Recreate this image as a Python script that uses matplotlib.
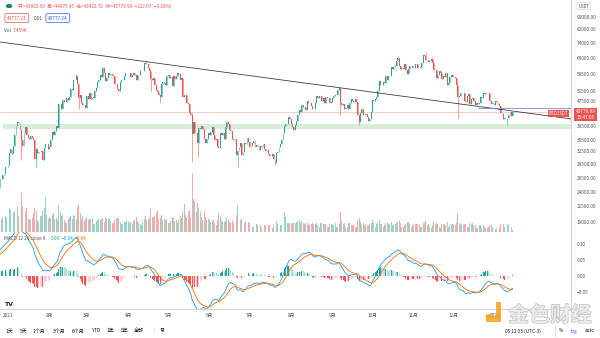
import numpy as np
import pandas as pd
import matplotlib
matplotlib.use('Agg')
import matplotlib.pyplot as plt
from matplotlib.patches import FancyBboxPatch, Rectangle, Circle
from matplotlib.ticker import NullLocator
import matplotlib.patheffects as pe

plt.rcParams['font.family'] = ['Noto Sans CJK SC', 'DejaVu Sans']

# ---- data: BTCUSDT daily closes, thousand USDT -------------------------
# 2020-11-15 .. 2020-12-25, only used to warm up the MACD
warmup = [15.9, 16.7, 17.7, 17.8, 17.8, 18.7, 18.7, 18.4, 18.4, 19.2, 18.7, 17.1, 17.2,
          17.7, 18.2, 19.7, 18.8, 19.2, 19.4, 18.7, 19.2, 19.4, 19.2, 18.3, 18.6, 18.3,
          18.0, 18.8, 19.2, 19.3, 19.4, 21.3, 22.8, 23.1, 23.9, 23.5, 22.7, 23.8, 23.2,
          23.7, 24.7]

close_dec20 = [26.4, 26.3, 27.1, 27.4, 28.9, 29.0]
close_jan = [29.4, 32.2, 33.0, 32.0, 34.0, 36.8, 39.4, 40.7, 40.3, 38.2,
             35.5, 34.0, 37.4, 39.2, 36.8, 36.1, 35.8, 36.6, 36.0, 35.5,
             30.8, 33.0, 32.1, 32.3, 32.3, 32.5, 30.4, 33.4, 34.3, 34.3, 33.1]
close_feb = [33.5, 35.5, 37.7, 36.9, 38.0, 39.3, 38.9, 46.4, 46.5, 44.9,
             48.0, 47.4, 47.2, 48.6, 47.9, 49.1, 52.1, 51.6, 55.9, 56.0,
             57.5, 54.2, 48.8, 49.7, 47.1, 46.3, 46.2, 45.2]
close_mar = [49.6, 48.4, 50.5, 48.4, 48.9, 48.9, 51.2, 52.4, 54.9, 56.0,
             57.8, 57.3, 61.2, 59.0, 55.6, 56.8, 58.9, 58.0, 58.4, 58.1,
             57.4, 54.1, 54.3, 52.3, 51.3, 55.0, 55.8, 55.8, 57.6, 58.8, 58.9]
close_apr = [59.0, 59.1, 57.1, 58.2, 59.1, 58.0, 56.0, 58.1, 58.1, 59.8,
             59.8, 59.9, 63.5, 62.9, 63.2, 61.3, 60.0, 56.2, 55.7, 56.5,
             53.8, 51.7, 51.1, 50.0, 49.0, 54.0, 55.0, 54.8, 53.6, 57.7]
close_may = [57.8, 56.6, 57.2, 53.2, 57.5, 56.4, 57.4, 58.9, 58.3, 55.8,
             56.7, 49.2, 49.7, 49.9, 46.8, 46.4, 43.6, 42.9, 37.0, 40.7,
             37.3, 37.5, 34.7, 38.8, 38.4, 39.3, 38.5, 35.7, 34.6, 35.7, 37.3]
close_jun = [36.7, 37.6, 39.2, 36.9, 35.5, 35.8, 33.6, 33.4, 37.4, 36.7,
             37.3, 35.6, 39.1, 40.5, 40.1, 38.3, 38.1, 35.8, 35.5, 35.6,
             31.7, 32.5, 33.7, 34.7, 31.6, 32.3, 34.7, 34.5, 35.9, 35.0]
close_jul = [33.6, 33.8, 34.7, 35.3, 33.7, 34.2, 33.9, 32.9, 33.8, 33.5,
             34.3, 33.1, 32.7, 32.8, 31.8, 31.4, 31.5, 31.8, 30.8, 29.8,
             32.1, 32.3, 33.6, 34.3, 35.4, 37.3, 39.5, 40.0, 40.0, 42.2, 41.6]
close_aug = [39.9, 39.2, 38.2, 39.7, 40.9, 42.9, 44.6, 43.8, 46.3, 45.6,
             45.6, 44.4, 47.8, 47.1, 47.0, 46.0, 44.7, 44.7, 46.8, 49.3,
             48.9, 49.3, 49.5, 47.7, 48.9, 46.9, 49.1, 48.9, 48.8, 47.1, 47.2]
close_sep = [48.8, 49.3, 50.0, 49.9, 51.8, 52.7, 46.9, 46.1, 46.4, 44.9,
             45.2, 46.1, 44.9, 47.1, 48.2, 47.8, 47.3, 48.3, 47.3, 43.0,
             40.7, 43.6, 44.9, 42.8, 42.7, 43.2, 42.2, 41.0, 41.5, 43.8]
close_oct = [48.1, 47.7, 48.2, 49.2, 51.5, 55.3, 53.8, 53.9, 55.0, 54.7,
             57.5, 56.0, 57.4, 57.4, 61.7, 60.9, 61.5, 62.0, 64.3, 66.0,
             62.2, 60.7, 61.3, 60.9, 63.1, 60.3, 58.5, 60.6, 62.3, 61.9, 61.3]
close_nov = [61.0, 63.2, 62.9, 61.4, 61.0, 61.5, 63.3, 67.6, 66.9, 64.9,
             64.9, 64.2, 64.4, 65.5, 63.6, 60.1, 60.4, 56.9, 58.1, 59.7,
             58.7, 56.3, 57.5, 57.1, 58.9, 53.6, 54.8, 57.3, 57.8, 57.0]
close_dec = [57.2, 56.5, 53.6, 49.2, 49.4, 50.6, 50.6, 50.5, 47.7, 47.2,
             49.4, 50.1, 46.7, 48.4, 48.9, 47.6, 46.2, 46.8, 46.7, 46.9,
             49.0, 48.6, 50.8, 50.4, 50.8, 50.7, 50.6, 47.5, 46.5, 47.1, 46.2]
close_jan22 = [47.7, 47.3, 46.4, 45.8, 43.4, 43.1, 41.6, 41.9, 41.8, 41.8,
               42.7, 43.9, 42.6, 43.78]

# daily volume, thousand BTC
vol_dec20 = [65, 58, 70, 60, 75, 70]
vol_jan = [60, 110, 100, 125, 90, 95, 110, 120, 75, 115, 180, 120, 100, 95, 110, 60,
           60, 55, 65, 85, 110, 95, 55, 45, 75, 75, 95, 110, 160, 80, 60]
vol_feb = [70, 65, 80, 85, 60, 65, 55, 125, 90, 75, 80, 55, 45, 40, 60, 70, 75, 60,
           80, 75, 60, 115, 130, 85, 60, 75, 50, 60]
vol_mar = [70, 55, 65, 60, 65, 35, 35, 50, 55, 60, 55, 60, 65, 45, 70, 60, 65, 60,
           50, 40, 40, 55, 65, 65, 65, 45, 35, 35, 45, 45, 55]
vol_apr = [50, 40, 45, 35, 50, 55, 70, 50, 40, 35, 30, 45, 60, 75, 55, 65, 60, 110,
           70, 70, 75, 85, 100, 60, 65, 80, 55, 60, 55, 60]
vol_may = [40, 40, 50, 70, 65, 50, 55, 40, 60, 75, 65, 90, 130, 80, 70, 90, 100, 70,
           270, 150, 140, 90, 135, 110, 90, 70, 55, 95, 70, 55, 60]
vol_jun = [55, 45, 50, 55, 40, 30, 55, 85, 75, 55, 45, 45, 50, 70, 55, 45, 45, 55,
           40, 45, 80, 125, 80, 55, 60, 40, 40, 45, 55, 45]
vol_jul = [40, 40, 25, 25, 35, 35, 30, 40, 30, 20, 20, 30, 30, 35, 30, 30, 20, 20,
           30, 40, 50, 35, 30, 30, 30, 110, 90, 70, 40, 40, 40]
vol_aug = [35, 40, 40, 40, 45, 50, 55, 40, 50, 40, 35, 40, 40, 30, 35, 35, 40, 35,
           35, 40, 30, 25, 40, 40, 35, 35, 35, 25, 25, 35, 35]
vol_sep = [35, 30, 40, 25, 25, 35, 90, 50, 35, 40, 25, 25, 40, 40, 30, 30, 30, 25,
           25, 55, 65, 45, 35, 40, 30, 35, 30, 30, 35, 40]
vol_oct = [55, 40, 25, 35, 40, 55, 35, 35, 25, 30, 40, 40, 35, 35, 45, 30, 30, 35,
           40, 45, 50, 40, 25, 25, 30, 35, 45, 45, 35, 25, 30]
vol_nov = [35, 35, 35, 35, 30, 25, 25, 40, 40, 50, 30, 35, 25, 20, 30, 45, 35, 40,
           35, 25, 20, 35, 35, 35, 30, 45, 25, 30, 35, 35]
vol_dec = [30, 30, 40, 85, 35, 40, 30, 30, 35, 35, 25, 25, 40, 35, 40, 30, 30, 20,
           20, 30, 30, 25, 30, 25, 20, 20, 25, 30, 30, 25, 20]
vol_jan22 = [15, 20, 25, 25, 35, 40, 35, 25, 20, 35, 30, 30, 25, 10]

# notable wicks (thousand USDT)
wick_hi_dates = ['2021-02-21', '2021-03-13', '2021-04-14', '2021-05-19', '2021-09-07',
                 '2021-10-20', '2021-11-10', '2021-12-04', '2021-01-11']
wick_hi_vals = [58.4, 61.8, 64.9, 43.5, 52.9, 67.0, 69.0, 53.9, 38.4]
wick_lo_dates = ['2021-01-11', '2021-01-22', '2021-02-23', '2021-04-18', '2021-04-25',
                 '2021-05-19', '2021-05-23', '2021-06-22', '2021-07-20', '2021-09-07',
                 '2021-12-04', '2022-01-10', '2021-09-21']
wick_lo_vals = [30.4, 28.9, 45.0, 51.5, 47.0, 30.0, 31.1, 28.8, 29.3, 42.8, 42.0, 39.6, 39.6]

# drawings on the chart
trend_days = [-6.0, 421.7]
trend_prices = [74500, 41600]
zone_low, zone_high = 38500, 40000
ray_start_day, ray_price = 352, 45200
last_price = 43779.99

price_ticks = [90000, 82000, 74000, 66000, 58500, 51500, 47500, 39500, 35500,
               32500, 29500, 26500, 24000, 21500, 19000]
macd_ticks = [0.10, 0.05, 0.0, -0.05]
month_labels = ['2021', '2月', '3月', '4月', '5月', '6月', '7月', '8月', '9月',
                '10月', '11月', '12月', '2022']

# ---- assemble -----------------------------------------------------------
closes = np.array(close_dec20 + close_jan + close_feb + close_mar + close_apr + close_may
                  + close_jun + close_jul + close_aug + close_sep + close_oct + close_nov
                  + close_dec + close_jan22) * 1000
vols = np.array(vol_dec20 + vol_jan + vol_feb + vol_mar + vol_apr + vol_may + vol_jun
                + vol_jul + vol_aug + vol_sep + vol_oct + vol_nov + vol_dec + vol_jan22)
assert len(closes) == len(vols) == 385, (len(closes), len(vols))

t0 = pd.Timestamp('2021-01-01')
dates = pd.date_range('2020-12-26', periods=len(closes), freq='D')
days = np.asarray((dates - t0).days, dtype=float)

opens = np.r_[warmup[-1] * 1000, closes[:-1]]
highs = np.maximum(opens, closes)
lows = np.minimum(opens, closes)
for d, v in zip(wick_hi_dates, wick_hi_vals):
    i = (pd.Timestamp(d) - dates[0]).days
    highs[i] = max(highs[i], v * 1000)
for d, v in zip(wick_lo_dates, wick_lo_vals):
    i = (pd.Timestamp(d) - dates[0]).days
    lows[i] = min(lows[i], v * 1000)

up = closes >= opens
UP, DN = '#26a69a', '#ef5350'
ccol = np.where(up, UP, DN)
vcol = np.where(up, '#95d3cd', '#f7aaa8')

# MACD 12 26 9 on log close
full = pd.Series(np.log(np.r_[np.array(warmup) * 1000, closes]))
macd = full.ewm(span=12, adjust=False).mean() - full.ewm(span=26, adjust=False).mean()
signal = macd.ewm(span=9, adjust=False).mean()
hist = (macd - signal).values[len(warmup):]
macd = macd.values[len(warmup):]
signal = signal.values[len(warmup):]
prev = np.r_[hist[0], hist[:-1]]
hcol = np.where(hist >= 0, np.where(hist > prev, '#26a69a', '#b2dfdb'),
                np.where(hist < prev, '#ff5252', '#ffcdd2'))

# ---- figure ---------------------------------------------------------------
W, H = 600, 338
fig = plt.figure(figsize=(6, 3.38), dpi=100)
fig.patch.set_facecolor('white')

def fx(px):
    return px / W

def fy(py):
    return 1 - py / H

XL = (-6.0, 421.7)
rect_p = [0, fy(232), 571 / W, 232 / H]
axv = fig.add_axes(rect_p)
axv.bar(days, vols, width=0.7, color=vcol, linewidth=0)
axv.set_xlim(XL)
axv.set_ylim(0, 1062)
axv.axis('off')

ax = fig.add_axes(rect_p)
ax.patch.set_alpha(0)
ax.set_yscale('log')
ax.set_xlim(XL)
ax.set_ylim(17660, 102400)

ax.axhspan(zone_low, zone_high, xmin=3 / 571, xmax=1, color='#d6edd7', lw=0, zorder=1)
ax.axhline(last_price, color='#f5b7b5', lw=0.5, zorder=1)
ax.plot(trend_days, trend_prices, color='#2a2e39', lw=0.55, zorder=4)
ax.plot([ray_start_day, XL[1]], [ray_price, ray_price], color='#6f7fd8', lw=0.55, zorder=4)

ax.vlines(days, lows, highs, colors=ccol, lw=0.4, zorder=2)
ax.bar(days, np.maximum(np.abs(closes - opens), 40), bottom=lows * 0 + np.minimum(opens, closes),
       width=0.7, color=ccol, linewidth=0, zorder=3)

ax.yaxis.set_minor_locator(NullLocator())
ax.set_yticks(price_ticks)
ax.set_yticklabels([f'{v:.2f}' for v in price_ticks])
ax.yaxis.tick_right()
ax.tick_params(axis='y', length=0, pad=4, labelsize=3.4, colors='#50535e')
ax.set_xticks([])
for s in ['top', 'left']:
    ax.spines[s].set_visible(False)
ax.spines['right'].set_color('#c9ccd4')
ax.spines['right'].set_linewidth(0.6)
ax.spines['bottom'].set_color('#c9ccd4')
ax.spines['bottom'].set_linewidth(0.6)

# MACD pane
axm = fig.add_axes([0, fy(309), 571 / W, 77 / H])
axm.set_xlim(XL)
axm.set_ylim(-0.103, 0.1375)
axm.bar(days, hist, width=0.7, color=hcol, linewidth=0)
axm.plot(days, macd, color='#2196f3', lw=0.6)
axm.plot(days, signal, color='#ff6d00', lw=0.6)
axm.set_yticks(macd_ticks)
axm.set_yticklabels(['0.10', '0.05', '0.00', '\u22120.05'])
axm.yaxis.tick_right()
axm.tick_params(axis='y', length=0, pad=4, labelsize=3.4, colors='#50535e')
month_days = [(pd.Timestamp(2021, m, 1) - t0).days for m in range(1, 13)] + [365]
axm.set_xticks(month_days)
axm.set_xticklabels(month_labels)
axm.tick_params(axis='x', length=0, pad=3, labelsize=3.4, colors='#50535e')
for s in ['top', 'left']:
    axm.spines[s].set_visible(False)
for s in ['right', 'bottom']:
    axm.spines[s].set_color('#c9ccd4')
    axm.spines[s].set_linewidth(0.6)

# ---- legends / labels --------------------------------------------------
fs = 3.4
fig.add_artist(Circle((fx(9), fy(6)), 0.0042, transform=fig.transFigure,
                      color='#1b8a5a'))
fig.text(fx(18), fy(6), '开=43902.65  高=44075.43  低=43422.72  收=43779.99  \u2212122.67 (\u22120.28%)',
         fontsize=fs, color='#ef5350', va='center')
fig.text(fx(7), fy(18), '43777.23', fontsize=fs, color='#ef5350', va='center',
         bbox=dict(boxstyle='round,pad=0.45', fc='white', ec='#ef5350', lw=0.5))
fig.text(fx(34), fy(18), '0.01', fontsize=fs, color='#50535e', va='center')
fig.text(fx(48), fy(18), '43777.24', fontsize=fs, color='#2962ff', va='center',
         bbox=dict(boxstyle='round,pad=0.45', fc='white', ec='#2962ff', lw=0.5))
fig.text(fx(4), fy(30), 'Vol', fontsize=fs, color='#50535e', va='center')
fig.text(fx(13), fy(30), '7.459K', fontsize=fs, color='#ef5350', va='center')

fig.text(fx(4), fy(239), 'MACD 12 26 close 9', fontsize=fs, color='#50535e', va='center')
fig.text(fx(51), fy(239), '0.00', fontsize=fs, color='#26a69a', va='center')
fig.text(fx(62), fy(239), '\u22120.04', fontsize=fs, color='#2196f3', va='center')
fig.text(fx(75), fy(239), '\u22120.04', fontsize=fs, color='#ff6d00', va='center')

# right-axis tags
fig.text(fx(585.5), fy(114.5), '43779.99\n15:47:05', fontsize=fs, color='white',
         ha='center', va='center', linespacing=1.1,
         bbox=dict(boxstyle='square,pad=0.35', fc='#ef5350', ec='none'))
fig.text(fx(558.5), fy(113.5), 'BTCUSDT', fontsize=3.1, color='white', ha='center',
         va='center', bbox=dict(boxstyle='square,pad=0.3', fc='#ef5350', ec='none'))
fig.text(fx(584), fy(6), 'USDT', fontsize=3.1, color='#50535e', ha='center', va='center',
         bbox=dict(boxstyle='round,pad=0.3', fc='white', ec='#c9ccd4', lw=0.4))

# TradingView logo
fig.text(fx(4), fy(304), 'TV', fontsize=4.5, color='#131722', fontweight='bold',
         va='center', family='DejaVu Sans')

# bottom toolbar
tool_x = [6, 20, 33, 53, 72, 92, 107, 121, 134, 153, 160]
tool_t = ['1天', '5天', '1个月', '3个月', '6个月', 'YTD', '1年', '5年', '全部', '|', '号']
for x, t in zip(tool_x, tool_t):
    fig.text(fx(x), fy(331), t, fontsize=3.6, color='#131722' if t != '|' else '#c9ccd4',
             va='center')
fig.text(fx(505), fy(331), '05:12:55 (UTC-3)', fontsize=3.4, color='#131722', va='center')
fig.add_artist(plt.Line2D([fx(555), fx(555)], [fy(326), fy(336)], color='#c9ccd4', lw=0.5))
fig.text(fx(559), fy(331), '%', fontsize=3.4, color='#131722', va='center')
fig.text(fx(571), fy(331), 'log', fontsize=3.4, color='#2962ff', va='center')
fig.text(fx(585), fy(331), 'auto', fontsize=3.4, color='#131722', va='center')

# watermark
fig.add_artist(FancyBboxPatch((fx(496), fy(318)), 5 / W, 16 / H, boxstyle='round,pad=0',
                              transform=fig.transFigure, fc='#f5a623', ec='none', alpha=0.9))
fig.add_artist(FancyBboxPatch((fx(486), fy(322)), 15 / W, 6 / H, boxstyle='round,pad=0',
                              transform=fig.transFigure, fc='#f5a623', ec='none', alpha=0.9))
fig.add_artist(Circle((fx(489), fy(316)), 0.006, transform=fig.transFigure,
                      fc='#f5a623', ec='none', alpha=0.9))
fig.text(fx(550), fy(315), '金色财经', fontsize=15, color='#ededed', ha='center',
         va='center', fontweight='bold', alpha=0.85,
         path_effects=[pe.withStroke(linewidth=0.8, foreground='#b0b0b0')])

fig.savefig('out.png', dpi=100)
